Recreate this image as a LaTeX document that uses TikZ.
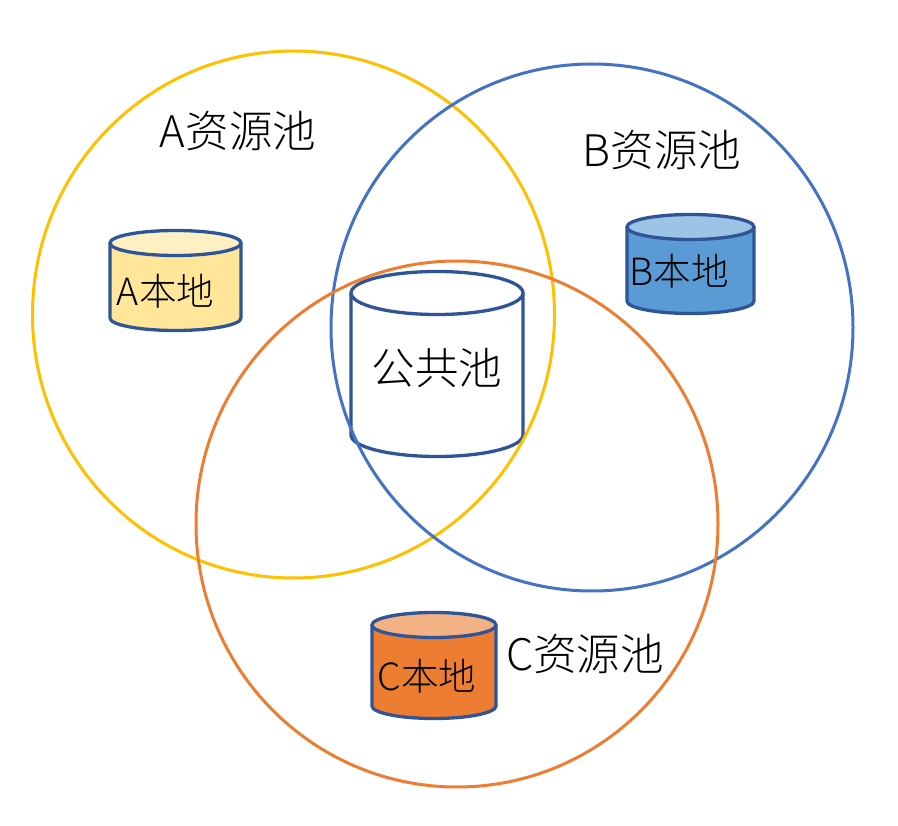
\documentclass[tikz,border=0pt]{standalone}
\usepackage{fontspec}
\setmainfont{Noto Sans CJK SC}[UprightFont=* Light]
\definecolor{cya}{HTML}{FFC000}
\definecolor{cblue}{HTML}{4472C4}
\definecolor{corg}{HTML}{ED7D31}
\definecolor{edgeb}{HTML}{2F5597}
\definecolor{yfill}{HTML}{FFE699}
\definecolor{ytop}{HTML}{FFF0C4}
\definecolor{bfill}{HTML}{5B9BD5}
\definecolor{btop}{HTML}{9DC3E6}
\definecolor{otop}{HTML}{F4B183}
\tikzset{x=1pt,y=-1pt,
 ring/.style={line width=3pt},
 lab/.style={inner sep=0pt,font=\fontsize{43.5}{47}\selectfont},
 small/.style={inner sep=0pt,font=\fontsize{37.5}{41}\selectfont}}
\newcommand{\can}[7]{% x1 x2 ytop ybot ry fill topfill
 \fill[#6] (#1,#3) -- (#1,#4) arc[start angle=180,end angle=0,x radius={(#2-#1)/2},y radius=#5] -- (#2,#3) -- cycle;
 \fill[#7] ({(#1+#2)/2},#3) ellipse[x radius={(#2-#1)/2},y radius=#5];
 \draw[edgeb,line width=3.3pt] (#1,#3) -- (#1,#4) arc[start angle=180,end angle=0,x radius={(#2-#1)/2},y radius=#5] -- (#2,#3);
 \draw[edgeb,line width=3.3pt] ({(#1+#2)/2},#3) ellipse[x radius={(#2-#1)/2},y radius=#5];
}
\begin{document}
\begin{tikzpicture}
\useasboundingbox (0,0) rectangle (898,826);
\fill[white] (0,0) rectangle (898,826);
\can{110}{241}{243}{318}{12.5}{yfill}{ytop}
\can{627}{754}{227}{301}{12.5}{bfill}{btop}
\can{372}{496}{625}{706}{12.5}{corg}{otop}
\can{351}{523}{293}{435}{21.5}{white}{white}
\coordinate (ca) at (293.5,314.5);
\coordinate (cb) at (592,327.5);
\coordinate (cc) at (457,524);
\draw[ring,cya] (ca) ellipse[x radius=261,y radius=263.5];
\draw[ring,cblue] (cb) ellipse[x radius=261,y radius=263.5];
\draw[ring,corg] (cc) ellipse[x radius=261,y radius=263];
\node[lab] (ta) at (238,131) {A资源池};
\node[lab] (tb) at (662,150) {B资源池};
\node[lab] (tc) at (585,654) {C资源池};
\node[lab] (tp) at (437,368) {公共池};
\node[small] (la) at (165.5,291) {A本地};
\node[small] (lb) at (679,271) {B本地};
\node[small] (lc) at (427,676) {C本地};
\end{tikzpicture}
\end{document}
